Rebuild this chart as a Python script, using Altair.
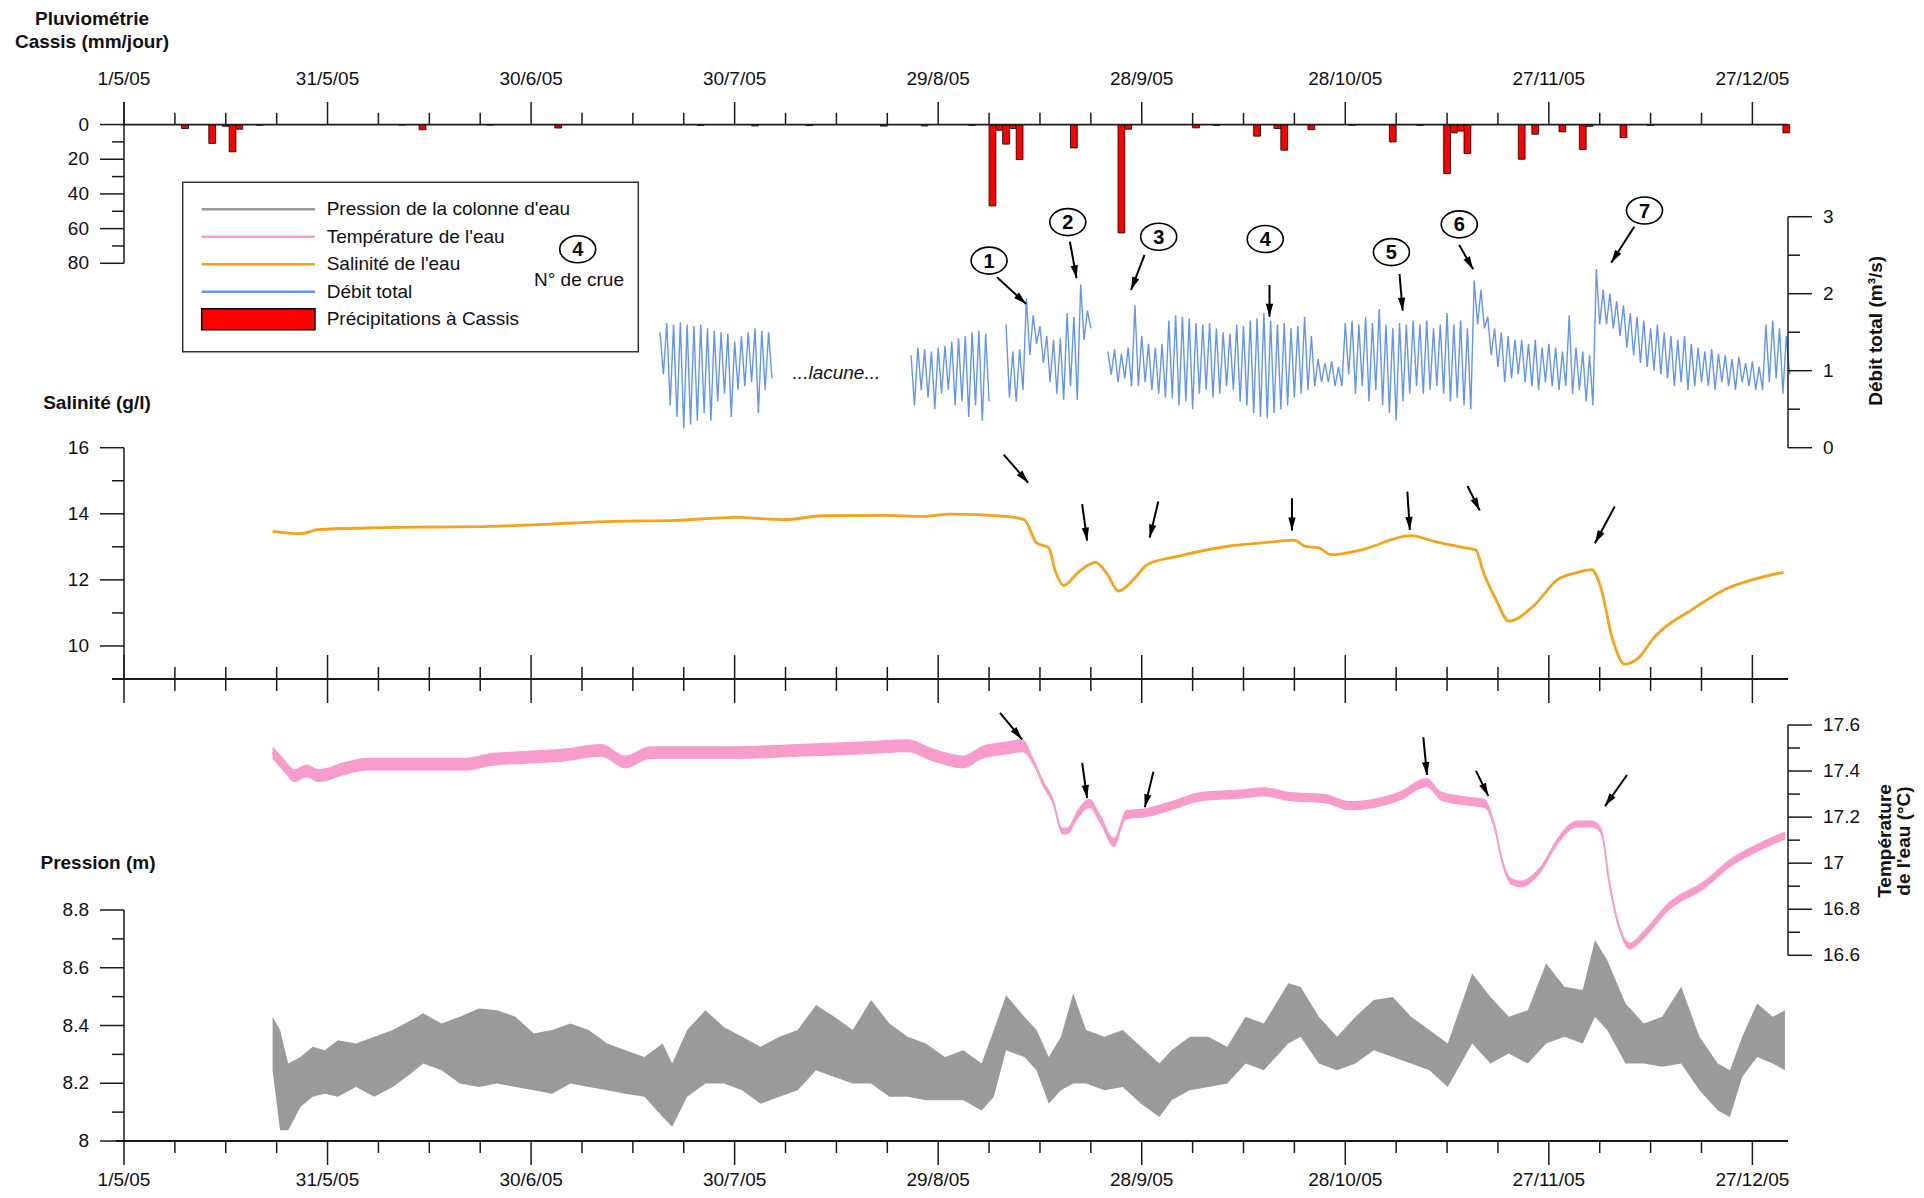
import math
import altair as alt
import pandas as pd

# ======================= DATA =======================
# time axis: days since 1/5/05
X_MAJOR_DAYS = [0, 30, 60, 90, 120, 150, 180, 210, 240]
X_MAJOR_LABELS = ["1/5/05", "31/5/05", "30/6/05", "30/7/05", "29/8/05",
                  "28/9/05", "28/10/05", "27/11/05", "27/12/05"]
X_MINOR_DAYS = [7.5, 15, 22.5, 37.5, 45, 52.5, 67.5, 75, 82.5, 97.5, 105, 112.5,
                127.5, 135, 142.5, 157.5, 165, 172.5, 187.5, 195, 202.5, 217.5, 225, 232.5]

RAIN_MAJOR = [0, 20, 40, 60, 80]
RAIN_MINOR = [10, 30, 50, 70]
DEB_MAJOR = [0, 1, 2, 3]
DEB_MINOR = [0.5, 1.5, 2.5]
SAL_MAJOR = [10, 12, 14, 16]
SAL_MINOR = [11, 13, 15]
TMP_MAJOR = [16.6, 16.8, 17.0, 17.2, 17.4, 17.6]
TMP_LABELS = ["16.6", "16.8", "17", "17.2", "17.4", "17.6"]
TMP_MINOR = [16.7, 16.9, 17.1, 17.3, 17.5]
PRS_MAJOR = [8.0, 8.2, 8.4, 8.6, 8.8]
PRS_LABELS = ["8", "8.2", "8.4", "8.6", "8.8"]
PRS_MINOR = [8.1, 8.3, 8.5, 8.7]

# daily rainfall at Cassis (mm/jour)
rain_day = [9, 13, 15, 16, 17, 20, 41, 44, 54, 64, 85, 93, 101, 112, 118, 125, 128, 129, 130, 131,
            132, 140, 147, 148, 158, 161, 167, 170, 171, 175, 181, 187, 191, 195, 196, 197, 198, 206, 208, 212,
            215, 216, 221, 225, 245]
rain_mm = [2.3, 10.9, 1.0, 15.7, 2.7, 0.4, 0.3, 3.0, 0.3, 2.0, 0.5, 0.8, 0.6, 0.9, 0.8, 0.5, 46.9, 3.3, 11.3, 2.3,
           20.2, 13.5, 62.5, 2.7, 1.9, 0.5, 6.7, 2.3, 14.8, 2.9, 0.4, 10.0, 0.5, 28.3, 4.8, 3.8, 16.7, 20.0, 5.6, 4.2,
           14.4, 1.0, 7.5, 0.5, 4.8]

# Débit total (m3/s): daily high / low of the tidal oscillation, four recorded segments
debit_seg_start = [79, 116, 130, 145]
debit_hi_A = [1.50, 1.62, 1.60, 1.63, 1.60, 1.58, 1.60, 1.55, 1.52, 1.50, 1.48, 1.38, 1.45, 1.50, 1.55, 1.52, 1.50]
debit_lo_A = [0.95, 0.55, 0.40, 0.25, 0.30, 0.35, 0.45, 0.35, 0.60, 0.70, 0.40, 0.75, 0.80, 0.85, 0.45, 0.75, 0.90]
debit_hi_B = [1.20, 1.30, 1.28, 1.25, 1.30, 1.32, 1.38, 1.42, 1.45, 1.50, 1.52, 1.48]
debit_lo_B = [0.55, 0.75, 0.65, 0.50, 0.70, 0.75, 0.55, 0.60, 0.40, 0.55, 0.35, 0.60]
debit_hi_C = [1.60, 1.25, 1.28, 1.94, 1.72, 1.58, 1.45, 1.40, 1.42, 1.75, 1.70, 2.12, 1.78]
debit_lo_C = [0.65, 0.60, 0.75, 1.20, 1.35, 1.10, 0.85, 0.70, 0.62, 0.80, 0.62, 1.40, 1.55]
debit_hi_D = [1.25, 1.28, 1.22, 1.30, 1.85, 1.45, 1.35, 1.30, 1.35, 1.65,
              1.72, 1.70, 1.68, 1.62, 1.60, 1.62, 1.55, 1.50, 1.48, 1.60,
              1.58, 1.65, 1.68, 1.75, 1.65, 1.60, 1.62, 1.55, 1.58, 1.70,
              1.45, 1.15, 1.10, 1.12, 1.05, 1.62, 1.65, 1.60, 1.70, 1.62,
              1.80, 1.60, 1.55, 1.62, 1.60, 1.65, 1.60, 1.65, 1.55, 1.60,
              1.75, 1.60, 1.65, 1.55, 2.17, 2.05, 1.70, 1.55, 1.50, 1.45,
              1.40, 1.40, 1.35, 1.40, 1.30, 1.35, 1.30, 1.25, 1.72, 1.30,
              1.25, 1.20, 2.32, 2.05, 2.00, 1.90, 1.85, 1.75, 1.70, 1.65,
              1.55, 1.60, 1.50, 1.45, 1.40, 1.45, 1.35, 1.30, 1.25, 1.28,
              1.22, 1.20, 1.15, 1.18, 1.10, 1.12, 1.05, 1.60, 1.65, 1.55, 1.45]
debit_lo_D = [0.95, 0.85, 0.90, 0.80, 0.80, 0.85, 0.75, 0.70, 0.65, 0.65,
              0.55, 0.60, 0.50, 0.70, 0.75, 0.65, 0.70, 0.80, 0.75, 0.60,
              0.55, 0.45, 0.40, 0.38, 0.45, 0.50, 0.55, 0.65, 0.70, 0.75,
              0.80, 0.85, 0.85, 0.80, 0.80, 0.95, 0.70, 0.80, 0.60, 0.75,
              0.55, 0.45, 0.35, 0.60, 0.70, 0.80, 0.70, 0.75, 0.80, 0.70,
              0.60, 0.65, 0.55, 0.50, 1.60, 1.55, 1.20, 1.05, 0.85, 0.90,
              0.95, 0.85, 0.80, 0.75, 0.85, 0.80, 0.75, 0.80, 0.70, 0.75,
              0.60, 0.55, 1.60, 1.60, 1.55, 1.45, 1.30, 1.20, 1.10, 1.05,
              1.00, 0.95, 0.90, 0.80, 0.85, 0.75, 0.80, 0.85, 0.80, 0.75,
              0.85, 0.80, 0.75, 0.85, 0.80, 0.75, 0.75, 0.85, 0.90, 0.70, 0.95]

# Salinité (g/l)
sal_day = [21.9, 26.0, 28.7, 35.9, 44.9, 54.0, 62.9, 72.2, 81.2, 90.2,
           97.4, 102.9, 111.9, 117.3, 121.8, 130.0, 132.7, 134.5, 136.3, 137.2,
           138.5, 140.8, 143.2, 144.8, 146.6, 149.0, 150.8, 155.3, 162.5, 167.9,
           172.4, 174.2, 176.1, 177.9, 182.4, 189.6, 193.2, 197.7, 199.2, 200.4,
           202.2, 204.1, 207.7, 211.3, 214.0, 216.3, 217.6, 219.4, 221.2, 223.0,
           225.7, 231.1, 236.5, 240.1, 244.6]
sal_val = [13.47, 13.40, 13.52, 13.57, 13.60, 13.62, 13.69, 13.77, 13.80, 13.89,
           13.82, 13.94, 13.95, 13.92, 13.99, 13.92, 13.82, 13.12, 12.97, 12.31,
           11.83, 12.26, 12.53, 12.21, 11.66, 12.06, 12.46, 12.71, 13.01, 13.12,
           13.20, 13.01, 12.97, 12.76, 12.91, 13.34, 13.16, 12.97, 12.91, 12.21,
           11.41, 10.75, 11.20, 12.01, 12.21, 12.31, 11.81, 10.20, 9.45, 9.60,
           10.30, 11.10, 11.76, 12.01, 12.23]

# Température de l'eau (°C): centre of the noisy trace and its half thickness
temp_day = [21.9, 23.7, 25.1, 26.9, 28.7, 32.4, 36.0, 41.4, 46.8, 50.4,
            54.1, 59.5, 64.9, 70.3, 73.9, 77.6, 83.0, 90.2, 99.3, 108.3,
            115.5, 119.2, 123.7, 126.4, 130.0, 132.4, 134.2, 135.4, 136.9, 138.3,
            139.0, 140.5, 142.3, 143.9, 145.9, 147.7, 150.8, 154.4, 158.9, 164.4,
            168.0, 171.6, 177.0, 180.6, 184.2, 187.9, 192.0, 194.2, 197.8, 200.5,
            202.0, 203.2, 204.5, 205.9, 208.7, 211.4, 214.1, 216.4, 217.7, 219.0,
            220.4, 221.9, 224.0, 227.6, 233.1, 236.7, 240.3, 244.8]
temp_val = [17.48, 17.42, 17.38, 17.40, 17.38, 17.41, 17.43, 17.43, 17.43, 17.43,
            17.45, 17.46, 17.47, 17.49, 17.44, 17.48, 17.48, 17.48, 17.49, 17.50,
            17.51, 17.47, 17.44, 17.48, 17.50, 17.51, 17.43, 17.35, 17.27, 17.14,
            17.14, 17.21, 17.26, 17.19, 17.09, 17.21, 17.22, 17.25, 17.29, 17.30,
            17.31, 17.29, 17.28, 17.25, 17.26, 17.29, 17.35, 17.29, 17.27, 17.26,
            17.16, 17.00, 16.92, 16.91, 16.97, 17.10, 17.17, 17.17, 17.14, 16.90,
            16.72, 16.64, 16.69, 16.81, 16.91, 17.00, 17.06, 17.12]
temp_half = [0.028] * 26 + [0.015] * 5 + [0.020] * 19 + [0.015] * 12 + [0.018] * 6

# Pression de la colonne d'eau (m): envelope of the tidal signal
pres_day = [21.9, 23.0, 24.2, 26.0, 27.8, 29.6, 31.5, 34.2, 36.9, 39.6,
            42.3, 44.1, 46.8, 49.5, 52.3, 55.0, 57.7, 60.4, 63.1, 65.8,
            68.5, 71.2, 73.9, 76.7, 79.4, 80.8, 83.0, 85.7, 88.4, 91.1,
            93.8, 96.6, 99.3, 102.0, 104.7, 107.4, 110.1, 112.8, 115.5, 118.2,
            121.0, 123.7, 126.4, 128.2, 130.0, 132.7, 134.5, 136.3, 138.1, 139.9,
            141.8, 144.5, 147.2, 149.9, 152.6, 154.4, 157.1, 159.8, 162.6, 165.3,
            168.0, 171.6, 173.4, 176.1, 178.8, 181.5, 184.2, 187.0, 189.7, 192.4,
            195.1, 198.7, 201.4, 204.1, 206.9, 209.6, 212.3, 215.0, 216.8, 218.6,
            221.3, 224.0, 226.7, 229.5, 232.2, 234.9, 236.7, 238.5, 240.7, 243.0, 244.8]
pres_hi = [8.430, 8.384, 8.268, 8.291, 8.326, 8.314, 8.349, 8.338, 8.361, 8.384,
           8.418, 8.442, 8.407, 8.430, 8.459, 8.453, 8.430, 8.372, 8.384, 8.407,
           8.384, 8.338, 8.314, 8.291, 8.338, 8.268, 8.384, 8.453, 8.395, 8.361,
           8.326, 8.361, 8.384, 8.471, 8.430, 8.384, 8.488, 8.407, 8.361, 8.338,
           8.291, 8.314, 8.268, 8.384, 8.505, 8.430, 8.384, 8.291, 8.361, 8.511,
           8.384, 8.361, 8.384, 8.326, 8.268, 8.314, 8.361, 8.361, 8.326, 8.430,
           8.407, 8.546, 8.534, 8.430, 8.361, 8.430, 8.488, 8.499, 8.430, 8.384,
           8.338, 8.580, 8.499, 8.430, 8.453, 8.615, 8.534, 8.523, 8.696, 8.627,
           8.476, 8.407, 8.430, 8.534, 8.361, 8.268, 8.245, 8.361, 8.476, 8.430, 8.453]
pres_lo = [8.245, 8.037, 8.037, 8.118, 8.153, 8.164, 8.153, 8.187, 8.153, 8.187,
           8.234, 8.268, 8.245, 8.199, 8.187, 8.199, 8.187, 8.176, 8.164, 8.199,
           8.187, 8.176, 8.164, 8.153, 8.083, 8.049, 8.153, 8.199, 8.199, 8.176,
           8.129, 8.153, 8.176, 8.245, 8.222, 8.199, 8.199, 8.153, 8.153, 8.141,
           8.141, 8.141, 8.106, 8.153, 8.314, 8.291, 8.245, 8.129, 8.176, 8.199,
           8.199, 8.176, 8.187, 8.129, 8.083, 8.141, 8.176, 8.187, 8.199, 8.268,
           8.245, 8.338, 8.361, 8.268, 8.245, 8.268, 8.314, 8.291, 8.268, 8.245,
           8.187, 8.338, 8.268, 8.303, 8.268, 8.338, 8.361, 8.338, 8.430, 8.384,
           8.268, 8.268, 8.257, 8.268, 8.176, 8.106, 8.083, 8.222, 8.291, 8.268, 8.245]

# flood numbers (N° de crue), placed in the débit panel
crue_num = ["1", "2", "3", "4", "5", "6", "7"]
crue_day = [127.5, 139.1, 152.5, 168.2, 186.8, 196.8, 224.1]
crue_deb = [2.43, 2.93, 2.74, 2.71, 2.54, 2.90, 3.08]

# arrows (start day, start value, end day, end value) for each panel
deb_arrow_d1 = [128.67, 139.41, 150.41, 168.83, 187.99, 196.79, 222.59]
deb_arrow_v1 = [2.213, 2.675, 2.503, 2.113, 2.256, 2.632, 2.870]
deb_arrow_d2 = [132.97, 140.40, 148.43, 168.83, 188.46, 198.84, 219.19]
deb_arrow_v2 = [1.866, 2.200, 2.048, 1.701, 1.779, 2.317, 2.403]
sal_arrow_d1 = [129.65, 141.22, 152.44, 172.14, 189.15, 198.01, 219.71]
sal_arrow_v1 = [15.79, 14.29, 14.37, 14.47, 14.67, 14.84, 14.22]
sal_arrow_d2 = [133.26, 141.95, 151.17, 172.14, 189.51, 199.82, 216.80]
sal_arrow_v2 = [14.94, 13.19, 13.28, 13.49, 13.51, 14.10, 13.11]
tmp_arrow_d1 = [129.11, 141.22, 151.72, 191.50, 199.26, 221.52]
tmp_arrow_v1 = [17.653, 17.436, 17.397, 17.547, 17.401, 17.383]
tmp_arrow_d2 = [132.35, 141.95, 150.45, 192.04, 201.08, 218.28]
tmp_arrow_v2 = [17.538, 17.282, 17.243, 17.383, 17.292, 17.248]

legend_labels = ["Pression de la colonne d'eau", "Température de l'eau", "Salinité de l'eau",
                 "Débit total", "Précipitations à Cassis"]

# ======================= LAYOUT / STYLE =======================
FONT = "Liberation Sans"
BLUE, ORANGE, PINK, GRAY, RED = "#6495ED", "#F5A31A", "#F79CCB", "#9A9A9A", "#FF0000"
AX = "#1a1a1a"
W, H = 1664, 1039
X_END = 245.25
PXD = W / X_END

XS = alt.Scale(domain=[0, X_END], nice=False, zero=False)


def ysc(dom, rng):
    return alt.Scale(domain=dom, range=rng, nice=False, zero=False)


RAIN_S = ysc([-13, 80], [0, 161.3])
DEB_S = ysc([0, 3], [345.7, 114.7])
SAL_S = ysc([9, 16], [577, 345.7])
TMP_S = ysc([16.6, 17.6], [853.3, 623])
PRS_S = ysc([8, 8.8], [1039, 808])
RAIN_ZERO = 161.3 * 13 / 93

ONE = pd.DataFrame({"k": [0]})


def X(f):
    return alt.X(f, type="quantitative", scale=XS, axis=None)


def Y(f, s):
    return alt.Y(f, type="quantitative", scale=s, axis=None)


def y_axis(s, lo, hi, major, labels, minor, right=False):
    x0 = W if right else 0
    sg = 1 if right else -1
    line = alt.Chart(pd.DataFrame({"a": [lo], "b": [hi]})).mark_rule(color=AX, strokeWidth=1.5).encode(
        x=alt.value(x0), y=Y("a", s), y2="b:Q")
    maj = alt.Chart(pd.DataFrame({"v": major})).mark_rule(color=AX, strokeWidth=1.5).encode(
        y=Y("v", s), x=alt.value(x0), x2=alt.value(x0 + sg * 24))
    mnr = alt.Chart(pd.DataFrame({"v": minor})).mark_rule(color=AX, strokeWidth=1.5).encode(
        y=Y("v", s), x=alt.value(x0), x2=alt.value(x0 + sg * 12))
    lab = alt.Chart(pd.DataFrame({"v": major, "t": labels})).mark_text(
        align="left" if right else "right", baseline="middle", fontSize=19, font=FONT, color="#111").encode(
        y=Y("v", s), x=alt.value(x0 + sg * 35), text="t:N")
    return [line, maj, mnr, lab]


def x_axis(ypix, up_maj, dn_maj, up_min, dn_min, x_start, lw, label_y=None):
    out = [alt.Chart(ONE).mark_rule(color=AX, strokeWidth=lw).encode(
        x=alt.value(x_start), x2=alt.value(W), y=alt.value(ypix))]
    out.append(alt.Chart(pd.DataFrame({"d": X_MAJOR_DAYS})).mark_rule(color=AX, strokeWidth=1.5).encode(
        x=X("d"), y=alt.value(ypix - up_maj), y2=alt.value(ypix + dn_maj)))
    out.append(alt.Chart(pd.DataFrame({"d": X_MINOR_DAYS})).mark_rule(color=AX, strokeWidth=1.5).encode(
        x=X("d"), y=alt.value(ypix - up_min), y2=alt.value(ypix + dn_min)))
    if label_y is not None:
        out.append(alt.Chart(pd.DataFrame({"d": X_MAJOR_DAYS, "t": X_MAJOR_LABELS})).mark_text(
            fontSize=19, font=FONT, baseline="middle", align="center", color="#111").encode(
            x=X("d"), y=alt.value(label_y), text="t:N"))
    return out


HEAD = "M0,0 L-0.62,2.2 L0.62,2.2 Z"
ELLIPSE = "M-1,0 A1,0.75,0,1,1,1,0 A1,0.75,0,1,1,-1,0 Z"


def arrows(d1, v1, d2, v2, s, k):
    rows = []
    for a, b, c, e in zip(d1, v1, d2, v2):
        dx = (c - a) * PXD
        dy = -(e - b) * k
        ang = math.degrees(math.atan2(dx, -dy)) % 360
        rows.append({"d1": a, "v1": b, "d2": c, "v2": e, "ang": ang})
    df = pd.DataFrame(rows)
    shaft = alt.Chart(df).mark_rule(color="black", strokeWidth=2).encode(
        x=X("d1"), x2="d2:Q", y=Y("v1", s), y2="v2:Q")
    head = alt.Chart(df).mark_point(shape=HEAD, size=140, filled=True, color="black",
                                    opacity=1, strokeWidth=0).encode(
        x=X("d2"), y=Y("v2", s), angle=alt.Angle("ang:Q", scale=None))
    return [shaft, head]


def ptext(t, x, y, size=19, weight="bold", angle=0, style="normal", align="center"):
    return alt.Chart(pd.DataFrame({"t": [t]})).mark_text(
        fontSize=size, font=FONT, fontWeight=weight, angle=angle, fontStyle=style,
        align=align, baseline="middle", color="#111").encode(
        x=alt.value(x), y=alt.value(y), text="t:N")


# ======================= PANELS =======================
# rain
rain_df = pd.DataFrame({"day": rain_day, "mm": rain_mm})
rain_df["x0"] = rain_df["day"] - 0.5
rain_df["x1"] = rain_df["day"] + 0.5
rain_bars = alt.Chart(rain_df).mark_bar(color=RED, stroke="black", strokeWidth=0.8).encode(
    x=X("x0"), x2="x1:Q", y=Y("mm", RAIN_S), y2=alt.datum(0))
rain_panel = alt.layer(rain_bars, *y_axis(RAIN_S, -13, 80, RAIN_MAJOR, [str(v) for v in RAIN_MAJOR], RAIN_MINOR))

# débit
rows = []
segs = [(debit_seg_start[0], debit_hi_A, debit_lo_A), (debit_seg_start[1], debit_hi_B, debit_lo_B),
        (debit_seg_start[2], debit_hi_C, debit_lo_C), (debit_seg_start[3], debit_hi_D, debit_lo_D)]
for si, (st, hi, lo) in enumerate(segs):
    for i, (h, l) in enumerate(zip(hi, lo)):
        rows.append({"seg": si, "day": st + i, "q": h})
        rows.append({"seg": si, "day": st + i + 0.5, "q": l})
deb_df = pd.DataFrame(rows)
deb_line = alt.Chart(deb_df).mark_line(color=BLUE, strokeWidth=1.4).encode(
    x=X("day"), y=Y("q", DEB_S), detail="seg:N")
crue_df = pd.DataFrame({"n": crue_num, "day": crue_day, "q": crue_deb})
crue_oval = alt.Chart(crue_df).mark_point(shape=ELLIPSE, size=1296, filled=True, fill="white",
                                          stroke="black", strokeWidth=1.6, opacity=1).encode(
    x=X("day"), y=Y("q", DEB_S))
crue_txt = alt.Chart(crue_df).mark_text(fontSize=20, fontWeight="bold", font=FONT, baseline="middle",
                                        dy=1, color="black").encode(
    x=X("day"), y=Y("q", DEB_S), text="n:N")
lacune = alt.Chart(pd.DataFrame({"day": [105], "q": [0.97], "t": ["...lacune..."]})).mark_text(
    fontSize=19, fontStyle="italic", font=FONT, baseline="middle", color="#111").encode(
    x=X("day"), y=Y("q", DEB_S), text="t:N")
deb_panel = alt.layer(deb_line, *y_axis(DEB_S, 0, 3, DEB_MAJOR, [str(v) for v in DEB_MAJOR], DEB_MINOR, right=True),
                      *arrows(deb_arrow_d1, deb_arrow_v1, deb_arrow_d2, deb_arrow_v2, DEB_S, 77.0),
                      crue_oval, crue_txt, lacune)

# salinité
sal_df = pd.DataFrame({"day": sal_day, "s": sal_val})
sal_line = alt.Chart(sal_df).mark_line(color=ORANGE, strokeWidth=2.8, interpolate="monotone").encode(
    x=X("day"), y=Y("s", SAL_S))
sal_panel = alt.layer(sal_line, *y_axis(SAL_S, 9, 16, SAL_MAJOR, [str(v) for v in SAL_MAJOR], SAL_MINOR),
                      *arrows(sal_arrow_d1, sal_arrow_v1, sal_arrow_d2, sal_arrow_v2, SAL_S, 231.3 / 7))

# température
tmp_df = pd.DataFrame({"day": temp_day, "t": temp_val, "h": temp_half})
tmp_df["lo"] = tmp_df["t"] - tmp_df["h"]
tmp_df["hi"] = tmp_df["t"] + tmp_df["h"]
tmp_area = alt.Chart(tmp_df).mark_area(color=PINK, opacity=1, interpolate="monotone").encode(
    x=X("day"), y=Y("lo", TMP_S), y2="hi:Q")
tmp_line = alt.Chart(tmp_df).mark_line(color=PINK, strokeWidth=2, interpolate="monotone").encode(
    x=X("day"), y=Y("t", TMP_S))
tmp_panel = alt.layer(tmp_area, tmp_line,
                      *y_axis(TMP_S, 16.6, 17.6, TMP_MAJOR, TMP_LABELS, TMP_MINOR, right=True),
                      *arrows(tmp_arrow_d1, tmp_arrow_v1, tmp_arrow_d2, tmp_arrow_v2, TMP_S, 230.3))

# pression
prs_df = pd.DataFrame({"day": pres_day, "hi": pres_hi, "lo": pres_lo})
prs_area = alt.Chart(prs_df).mark_area(color=GRAY, opacity=1).encode(
    x=X("day"), y=Y("lo", PRS_S), y2="hi:Q")
prs_panel = alt.layer(prs_area, *y_axis(PRS_S, 8, 8.8, PRS_MAJOR, PRS_LABELS, PRS_MINOR))

# time axes
axes = (x_axis(RAIN_ZERO, RAIN_ZERO, 0, 11.7, 0, 0, 1.8, label_y=-23)
        + x_axis(577, 24, 24, 12, 12, -12, 2.2)
        + x_axis(1039, 0, 24, 0, 12, -8, 2.2, label_y=1078))

# titles
titles = [
    ptext("Pluviométrie", -32, -82.7),
    ptext("Cassis (mm/jour)", -32, -59.7),
    ptext("Salinité (g/l)", -27, 300.7),
    ptext("Pression (m)", -26, 761),
    ptext("Débit total (m³/s)", W + 88, 228.8, angle=270),
    ptext("Température", W + 97, 739, angle=270),
    ptext("de l'eau (°C)", W + 116, 739, angle=270),
]

# legend
leg = [alt.Chart(ONE).mark_rect(fill="white", stroke="#333", strokeWidth=1.5).encode(
    x=alt.value(58.7), x2=alt.value(514.3), y=alt.value(80.3), y2=alt.value(249.7))]
row_y = [107.3 + i * 27.5 for i in range(5)]
leg_df = pd.DataFrame({"t": legend_labels, "y": row_y, "c": [GRAY, PINK, ORANGE, BLUE, RED]})
leg.append(alt.Chart(leg_df.iloc[:4]).mark_rule(strokeWidth=2.5).encode(
    x=alt.value(77.7), x2=alt.value(191), y=alt.Y("y:Q", scale=None),
    color=alt.Color("c:N", scale=None)))
leg.append(alt.Chart(leg_df.iloc[4:]).mark_rect(fill=RED, stroke="black", strokeWidth=1.5).encode(
    x=alt.value(77.7), x2=alt.value(191), y=alt.value(row_y[4] - 10.5), y2=alt.value(row_y[4] + 10.5)))
leg.append(alt.Chart(leg_df).mark_text(fontSize=19, font=FONT, align="left", baseline="middle",
                                       color="#111").encode(
    x=alt.value(202.7), y=alt.Y("y:Q", scale=None), text="t:N"))
leg.append(alt.Chart(ONE).mark_point(shape=ELLIPSE, size=1296, filled=True, fill="white", stroke="black",
                                     strokeWidth=1.6, opacity=1).encode(x=alt.value(453.7), y=alt.value(147.3)))
leg.append(ptext("4", 453.7, 148.3, size=20))
leg.append(ptext("N° de crue", 455, 178, weight="normal"))

chart = alt.layer(
    prs_panel, tmp_panel, sal_panel, deb_panel, rain_panel,
    *axes, *titles, *leg
).resolve_scale(y="independent").properties(
    width=W, height=H,
    padding={"left": 116, "top": 94, "right": 128, "bottom": 49},
    autosize=alt.AutoSizeParams(type="none"),
    background="white",
).configure_view(stroke=None)

chart.save("out.html", embed_options={"renderer": "svg", "actions": False})
